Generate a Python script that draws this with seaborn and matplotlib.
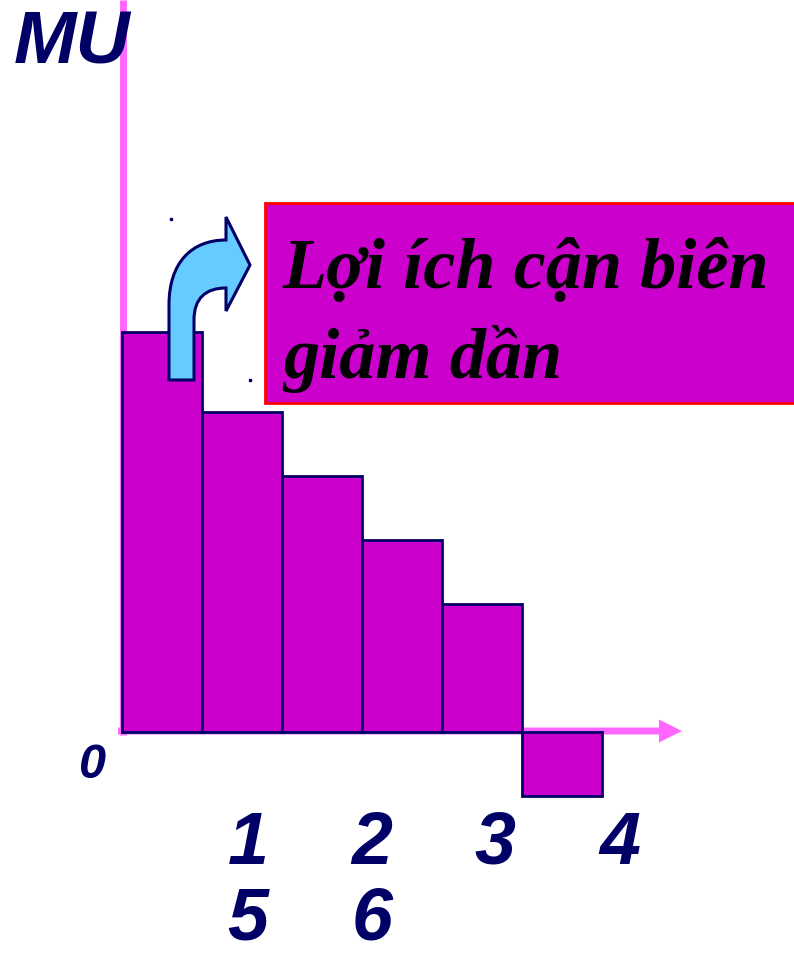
import numpy as np
import pandas as pd
import seaborn as sns
import matplotlib.pyplot as plt
import matplotlib.transforms as mtransforms
from matplotlib.patches import FancyArrowPatch, Rectangle, PathPatch
from matplotlib.path import Path

# marginal utility of each unit consumed
units = ['1', '2', '3', '4', '5', '6']
mu = [25, 20, 16, 12, 8, -4]
callout = ['Lợi ích cận biên', 'giảm dần']

W, H = 794, 956
NAVY = '#000066'
PINK = '#FF66FF'
MAGENTA = '#CC00CC'

sns.set_style('white')
fig = plt.figure(figsize=(W / 100, H / 100), dpi=100)
ax = fig.add_axes([0, 0, 1, 1])
ax.set_axis_off()
# pixel coordinates (origin top-left) for the decorations
pix = mtransforms.Affine2D().scale(1 / W, -1 / H).translate(0, 1) + fig.transFigure

df = pd.DataFrame({'unit': units, 'mu': mu})
sns.barplot(data=df, x='unit', y='mu', width=1, color=MAGENTA, saturation=1,
            edgecolor=NAVY, linewidth=2, ax=ax, zorder=3)
ax.set_xlim(-2.025, 7.9)
ax.set_ylim(-14, 45.75)
ax.set_axis_off()

# axes drawn as pink lines
ax.plot([122.5, 122.5], [0, 735], color=PINK, lw=5, transform=pix, zorder=1,
        solid_capstyle='butt')
ax.add_patch(FancyArrowPatch((118, 731), (682, 731), transform=pix,
                             arrowstyle='simple,head_length=16.6,head_width=16.6,tail_width=5',
                             mutation_scale=1, shrinkA=0, shrinkB=0,
                             color=PINK, lw=0, zorder=1))

ax.text(14, 64, 'MU', transform=pix, fontsize=54, color=NAVY,
        family='Liberation Sans', weight='bold', style='italic', va='baseline', ha='left')
ax.text(92, 778, '0', transform=pix, fontsize=35, color=NAVY,
        family='Liberation Sans', weight='bold', style='italic', va='baseline', ha='center')

label_pos = [(248, 864), (372, 864), (495, 864), (620, 864), (248, 940), (372, 940)]
for lab, (lx, ly) in zip(units, label_pos):
    ax.text(lx, ly, lab, transform=pix, fontsize=53, color=NAVY,
            family='Liberation Sans', weight='bold', style='italic',
            va='baseline', ha='center')

# curved "up then right" arrow
verts = [(169, 380), (169, 305),
         (169, 262), (192, 240), (226, 240),
         (226, 217), (250, 265), (226, 311), (226, 288),
         (206, 288), (194, 298), (194, 320),
         (194, 380), (169, 380)]
codes = [Path.MOVETO, Path.LINETO,
         Path.CURVE4, Path.CURVE4, Path.CURVE4,
         Path.LINETO, Path.LINETO, Path.LINETO, Path.LINETO,
         Path.CURVE4, Path.CURVE4, Path.CURVE4,
         Path.LINETO, Path.CLOSEPOLY]
ax.add_patch(PathPatch(Path(verts, codes), transform=pix, facecolor='#66CCFF',
                       edgecolor=NAVY, lw=2.2, zorder=5))
ax.plot([171, 250], [219, 380], ls='none', marker='s', ms=2, color=NAVY,
        transform=pix, zorder=5)

# callout box
ax.add_patch(Rectangle((265, 203), 560, 200, transform=pix, facecolor=MAGENTA,
                       edgecolor='#FF0000', lw=2, zorder=6, clip_on=False))
for line, by in zip(callout, [288, 378]):
    ax.text(283, by, line, transform=pix, fontsize=52, color='black',
            family=['Liberation Serif', 'DejaVu Serif'], weight='bold', style='italic',
            va='baseline', ha='left', zorder=7)

fig.savefig('out.png', dpi=100)
